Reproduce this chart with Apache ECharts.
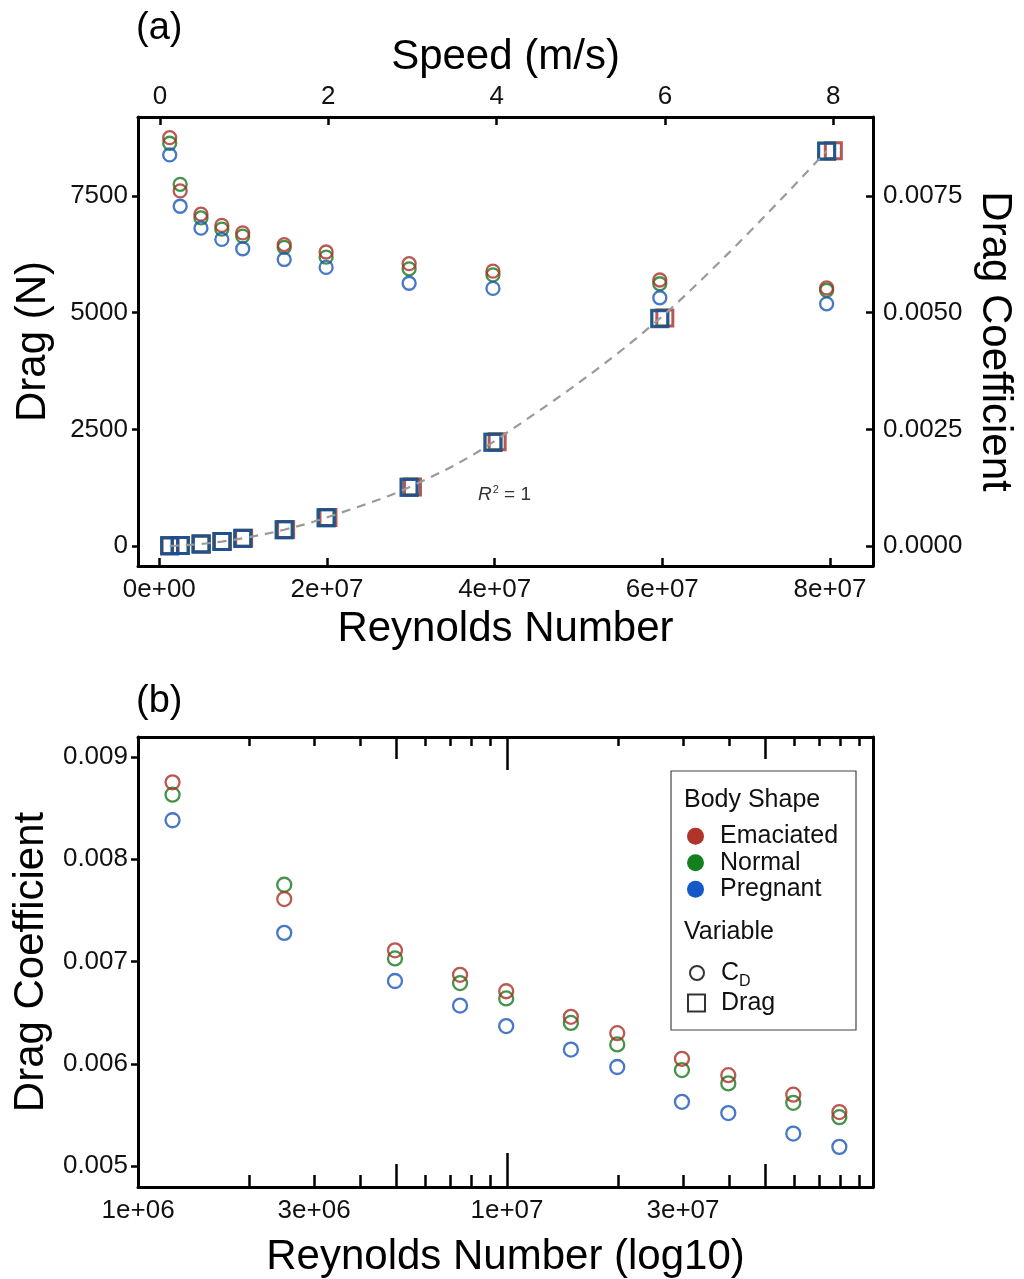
<!DOCTYPE html>
<html>
<head>
<meta charset="utf-8">
<script src="https://cdn.jsdelivr.net/npm/echarts@6/dist/echarts.min.js"></script>
<style>
html,body{margin:0;padding:0;background:#fff;}
#chart{width:1024px;height:1279px;}
</style>
</head>
<body>
<div id="chart"></div>
<script>
// ---------------- data ----------------
const reynolds = [1.24e6, 2.49e6, 4.97e6, 7.46e6, 9.95e6, 1.49e7, 1.99e7, 2.98e7, 3.98e7, 5.97e7, 7.96e7];
const reynoldsDragEmaciated = [1.26e6, 2.52e6, 5.03e6, 7.54e6, 1.006e7, 1.507e7, 2.012e7, 3.02e7, 4.03e7, 6.03e7, 8.04e7];

const cdEmaciated = [0.00875, 0.00761, 0.00711, 0.00687, 0.00671, 0.00646, 0.00630, 0.00605, 0.00589, 0.00570, 0.00553];
const cdNormal    = [0.00863, 0.00775, 0.00703, 0.00679, 0.00664, 0.00640, 0.00619, 0.00594, 0.00581, 0.00562, 0.00548];
const cdPregnant  = [0.00838, 0.00728, 0.00681, 0.00657, 0.00637, 0.00614, 0.00597, 0.00563, 0.00552, 0.00532, 0.00519];

const dragEmaciated = [3, 12, 44, 96, 166, 352, 610, 1266, 2232, 4885, 8470];
const dragNormal    = [3, 12, 44, 95, 165, 350, 607, 1262, 2228, 4878, 8465];
const dragPregnant  = [3, 11, 43, 94, 162, 346, 603, 1255, 2220, 4870, 8460];

const fitDrag = [3, 12, 43, 95, 164, 349, 606, 1260, 2226, 4876, 8465];

const reTicks = [0, 2e7, 4e7, 6e7, 8e7];
const speedTicks = [0, 2, 4, 6, 8];
const dragTicks = [0, 2500, 5000, 7500];
const cdTicksA = [0, 0.0025, 0.005, 0.0075];
const cdTicksB = [0.005, 0.006, 0.007, 0.008, 0.009];
const logLabelTicks = [1e6, 3e6, 1e7, 3e7];
const logMinorTicks = [2e6, 3e6, 4e6, 6e6, 7e6, 8e6, 9e6, 2e7, 3e7, 4e7, 6e7, 7e7, 8e7, 9e7];
const logMidTicks = [5e6, 5e7];
const logMajorTicks = [1e7];

// ---------------- styling ----------------
const FONT = 'Liberation Sans, Arial, sans-serif';
const RED = '#a82f27', GREEN = '#16781c', BLUE = '#1856b6';
const RED_LEG = '#b0342a', GREEN_LEG = '#137f1f', BLUE_LEG = '#1558c8';
const RED_SQ = '#a02e2a', GREEN_SQ = '#1a6e26', BLUE_SQ = '#1c4aa2';
const TXT = '#111';

function sci(v) {
  if (v === 0) return '0e+00';
  const e = Math.floor(Math.log10(Math.abs(v)) + 1e-9);
  const m = Math.round(v / Math.pow(10, e));
  return m + 'e+' + String(e).padStart(2, '0');
}
const zip = (xs, ys) => xs.map((x, i) => [x, ys[i]]);

const axisLine = { show: true, onZero: false, lineStyle: { color: '#000', width: 3 } };
const tickStyle = { color: '#000', width: 2.5 };
const labelBase = { fontSize: 26, color: TXT, fontFamily: FONT };
const nameBase = { fontSize: 42, color: '#000', fontFamily: FONT };

const chart = echarts.init(document.getElementById('chart'), null, { renderer: 'canvas' });

const gridA = { left: 138, top: 117, width: 735, height: 449 };
const gridB = { left: 138, top: 737, width: 735, height: 450 };
const LOG_MIN = 9.995e5, LOG_MAX = 9.82e7;

function circleSeries(name, data, color, xi, yi, size) {
  return {
    name, type: 'scatter', xAxisIndex: xi, yAxisIndex: yi,
    data, symbol: 'circle', symbolSize: size,
    itemStyle: { color: 'rgba(0,0,0,0)', borderColor: color, borderWidth: 2.3 },
    emphasis: { disabled: true }, silent: true
  };
}
function squareSeries(name, data, color) {
  return {
    name, type: 'scatter', xAxisIndex: 0, yAxisIndex: 0,
    data, symbol: 'rect', symbolSize: 16,
    itemStyle: { color: 'rgba(0,0,0,0)', borderColor: color, borderWidth: 3 },
    emphasis: { disabled: true }, silent: true
  };
}
function tickOverlay(gridIndex, position, values, len) {
  return {
    type: 'log', logBase: 10, gridIndex, position, min: LOG_MIN, max: LOG_MAX,
    axisLine: { show: false }, splitLine: { show: false },
    axisLabel: { show: false },
    axisTick: { show: true, inside: true, length: len, lineStyle: tickStyle, customValues: values }
  };
}

const option = {
  backgroundColor: '#fff',
  animation: false,
  textStyle: { fontFamily: FONT },
  grid: [gridA, gridB, Object.assign({}, gridB), Object.assign({}, gridB)],
  xAxis: [
    { // 0: panel a bottom, Reynolds number
      type: 'value', gridIndex: 0, position: 'bottom', min: -2.54e6, max: 8.513e7,
      axisLine, splitLine: { show: false },
      axisTick: { show: true, inside: true, length: 8, lineStyle: tickStyle, customValues: reTicks },
      axisLabel: Object.assign({ customValues: reTicks, formatter: sci, margin: 11 }, labelBase),
      name: 'Reynolds Number', nameLocation: 'middle', nameGap: 42, nameTextStyle: nameBase
    },
    { // 1: panel a top, speed
      type: 'value', gridIndex: 0, position: 'top', min: -0.261, max: 8.472,
      axisLine, splitLine: { show: false },
      axisTick: { show: true, inside: true, length: 8, lineStyle: tickStyle, customValues: speedTicks },
      axisLabel: Object.assign({ customValues: speedTicks, margin: 7, formatter: v => String(v) }, labelBase),
      name: 'Speed (m/s)', nameLocation: 'middle', nameGap: 39, nameTextStyle: nameBase
    },
    { // 2: panel b bottom log
      type: 'log', logBase: 10, gridIndex: 1, position: 'bottom', min: LOG_MIN, max: LOG_MAX,
      axisLine, splitLine: { show: false },
      axisTick: { show: true, inside: true, length: 12, lineStyle: tickStyle, customValues: logMinorTicks },
      axisLabel: Object.assign({ customValues: logLabelTicks, formatter: sci, margin: 11, showMinLabel: true }, labelBase),
      name: 'Reynolds Number (log10)', nameLocation: 'middle', nameGap: 49, nameTextStyle: nameBase
    },
    { // 3: panel b top log (mirror ticks)
      type: 'log', logBase: 10, gridIndex: 1, position: 'top', min: LOG_MIN, max: LOG_MAX,
      axisLine, splitLine: { show: false },
      axisTick: { show: true, inside: true, length: 9, lineStyle: tickStyle, customValues: logMinorTicks },
      axisLabel: { show: false }
    },
    tickOverlay(2, 'bottom', logMidTicks, 23),
    tickOverlay(2, 'top', logMidTicks, 22),
    tickOverlay(3, 'bottom', logMajorTicks, 34),
    tickOverlay(3, 'top', logMajorTicks, 33)
  ],
  yAxis: [
    { // 0: panel a left, drag
      type: 'value', gridIndex: 0, position: 'left', min: -428.6, max: 9192.9,
      axisLine, splitLine: { show: false },
      axisTick: { show: true, inside: false, length: 6, lineStyle: tickStyle, customValues: dragTicks },
      axisLabel: Object.assign({ customValues: dragTicks, margin: 10, formatter: v => String(v) }, labelBase),
      name: 'Drag (N)', nameLocation: 'middle', nameRotate: 90, nameGap: 84, nameTextStyle: nameBase
    },
    { // 1: panel a right, drag coefficient
      type: 'value', gridIndex: 0, position: 'right', min: -0.0004286, max: 0.0091929,
      axisLine, splitLine: { show: false },
      axisTick: { show: true, inside: true, length: 7, lineStyle: tickStyle, customValues: cdTicksA },
      axisLabel: Object.assign({ customValues: cdTicksA, margin: 10, formatter: v => v.toFixed(4) }, labelBase),
      name: 'Drag Coefficient', nameLocation: 'middle', nameRotate: -90, nameGap: 100, nameTextStyle: nameBase
    },
    { // 2: panel b left
      type: 'value', gridIndex: 1, position: 'left', min: 0.004798, max: 0.009193,
      axisLine, splitLine: { show: false },
      axisTick: { show: true, inside: false, length: 7, lineStyle: tickStyle, customValues: cdTicksB },
      axisLabel: Object.assign({ customValues: cdTicksB, margin: 10, formatter: v => v.toFixed(3) }, labelBase),
      name: 'Drag Coefficient', nameLocation: 'middle', nameRotate: 90, nameGap: 86, nameTextStyle: nameBase
    },
    { // 3: panel b right, line only
      type: 'value', gridIndex: 1, position: 'right', min: 0.004798, max: 0.009193,
      axisLine, splitLine: { show: false }, axisTick: { show: false }, axisLabel: { show: false }
    },
    { type: 'value', gridIndex: 2, show: false, min: 0, max: 1 },
    { type: 'value', gridIndex: 3, show: false, min: 0, max: 1 }
  ],
  legend: [
    {
      orient: 'vertical', left: 687, top: 823, padding: 0, itemGap: 0,
      itemWidth: 17, itemHeight: 17, selectedMode: false,
      textStyle: { fontSize: 25, color: TXT, fontFamily: FONT, lineHeight: 26.5, padding: [0, 0, 0, 11] },
      data: [
        { name: 'Emaciated', icon: 'circle', itemStyle: { color: RED_LEG, borderWidth: 0, opacity: 1 } },
        { name: 'Normal', icon: 'circle', itemStyle: { color: GREEN_LEG, borderWidth: 0, opacity: 1 } },
        { name: 'Pregnant', icon: 'circle', itemStyle: { color: BLUE_LEG, borderWidth: 0, opacity: 1 } }
      ]
    },
    {
      orient: 'vertical', left: 689, top: 956, padding: 0, itemGap: 0,
      itemWidth: 14, itemHeight: 14, selectedMode: false,
      formatter: () => '{n|C}{s|D}',
      textStyle: {
        color: TXT, fontFamily: FONT, padding: [0, 0, 0, 12],
        rich: {
          n: { fontSize: 25, lineHeight: 26, fontFamily: FONT, color: TXT },
          s: { fontSize: 16, lineHeight: 16, padding: [18, 0, 0, 0], fontFamily: FONT, color: TXT }
        }
      },
      data: [{ name: 'CD', icon: 'circle', itemStyle: { color: 'rgba(0,0,0,0)', borderColor: '#000', borderWidth: 2 } }]
    },
    {
      orient: 'vertical', left: 687, top: 990, padding: 0, itemGap: 0,
      itemWidth: 17, itemHeight: 17, selectedMode: false,
      textStyle: { fontSize: 25, color: TXT, fontFamily: FONT, lineHeight: 26, padding: [0, 0, 0, 11] },
      data: [{ name: 'Drag', icon: 'rect', itemStyle: { color: 'rgba(0,0,0,0)', borderColor: '#000', borderWidth: 2 } }]
    }
  ],
  graphic: [
    { type: 'rect', shape: { x: 671, y: 771, width: 185, height: 259 }, style: { fill: 'rgba(0,0,0,0)', stroke: '#444', lineWidth: 1.2 }, z: 1 },
    { type: 'text', x: 684, y: 800, style: { text: 'Body Shape', font: '25px ' + FONT, fill: TXT, verticalAlign: 'middle' } },
    { type: 'text', x: 684, y: 932, style: { text: 'Variable', font: '25px ' + FONT, fill: TXT, verticalAlign: 'middle' } },
    { type: 'text', x: 136, y: 29, style: { text: '(a)', font: '38px ' + FONT, fill: '#000', verticalAlign: 'middle' } },
    { type: 'text', x: 136, y: 702, style: { text: '(b)', font: '38px ' + FONT, fill: '#000', verticalAlign: 'middle' } },
    {
      type: 'text', x: 478, y: 495,
      style: {
        text: '{i|R}{p|2}{t| = 1}', fill: '#333', verticalAlign: 'middle',
        rich: {
          i: { fontSize: 19, fontStyle: 'italic', fontFamily: FONT, fill: '#333' },
          p: { fontSize: 11, padding: [0, 0, 10, 1], fontFamily: FONT, fill: '#333' },
          t: { fontSize: 19, fontFamily: FONT, fill: '#333' }
        }
      }
    }
  ],
  series: [
    // panel a: drag coefficient circles (right axis)
    circleSeries('Normal', zip(reynolds, cdNormal), GREEN, 0, 1, 13),
    circleSeries('Emaciated', zip(reynolds, cdEmaciated), RED, 0, 1, 13),
    circleSeries('Pregnant', zip(reynolds, cdPregnant), BLUE, 0, 1, 13),
    // panel a: drag squares (left axis)
    squareSeries('Emaciated', zip(reynoldsDragEmaciated, dragEmaciated), RED_SQ),
    squareSeries('Normal', zip(reynolds, dragNormal), GREEN_SQ),
    squareSeries('Pregnant', zip(reynolds, dragPregnant), BLUE_SQ),
    {
      name: 'Fit', type: 'line', xAxisIndex: 0, yAxisIndex: 0,
      data: zip(reynolds, fitDrag), smooth: 0.35, showSymbol: false, symbol: 'none',
      lineStyle: { color: '#9a9a9a', width: 2.2, type: [9, 7] }, z: 5, silent: true
    },
    // panel b: log scale circles
    circleSeries('Normal', zip(reynolds, cdNormal), GREEN, 2, 2, 14),
    circleSeries('Emaciated', zip(reynolds, cdEmaciated), RED, 2, 2, 14),
    circleSeries('Pregnant', zip(reynolds, cdPregnant), BLUE, 2, 2, 14),
    // legend-only entries for the variable key
    { name: 'CD', type: 'scatter', xAxisIndex: 2, yAxisIndex: 2, data: [], symbol: 'circle', itemStyle: { color: 'rgba(0,0,0,0)', borderColor: '#000', borderWidth: 2 } },
    { name: 'Drag', type: 'scatter', xAxisIndex: 2, yAxisIndex: 2, data: [], symbol: 'rect', itemStyle: { color: 'rgba(0,0,0,0)', borderColor: '#000', borderWidth: 2 } }
  ]
};
chart.setOption(option);
</script>
</body>
</html>
